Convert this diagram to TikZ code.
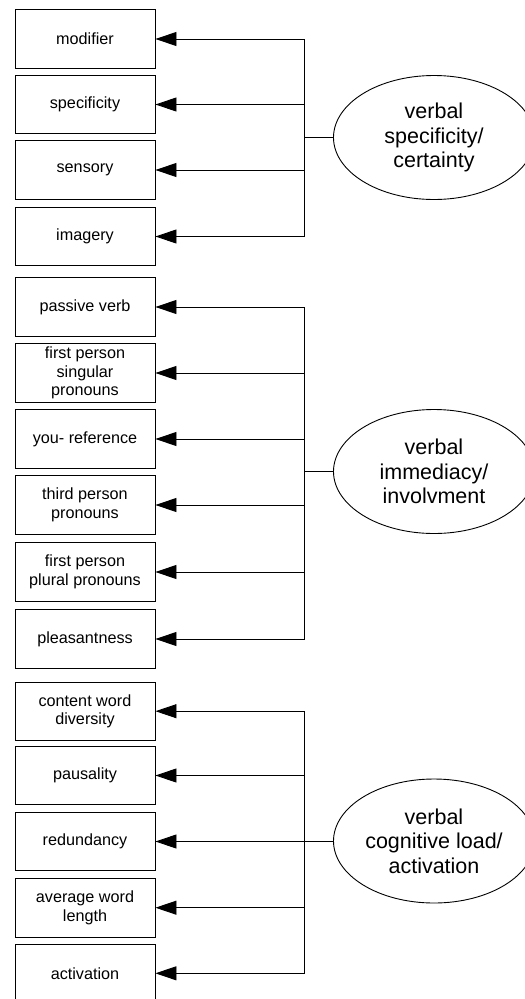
\documentclass[tikz,border=0pt]{standalone}
\usepackage{fontspec}
\setmainfont{Liberation Sans}
\usetikzlibrary{arrows.meta,shapes.geometric}

\tikzset{
  item/.style={draw=black, line width=0.9bp, rectangle, minimum width=140bp,
    minimum height=58.5bp, inner sep=0pt, align=center,
    font=\fontsize{16.2bp}{18.6bp}\selectfont},
  factor/.style={draw=black, line width=0.9bp, ellipse, minimum width=201bp,
    minimum height=124bp, inner sep=0pt, align=center,
    font=\fontsize{21.5bp}{24.5bp}\selectfont},
  link/.style={line width=0.9bp, black},
  load/.style={line width=0.9bp, black, -{Triangle[length=21bp,width=14bp]}}
}

\begin{document}
\begin{tikzpicture}[x=1bp,y=-1bp]
  \useasboundingbox (0,0) rectangle (525,999);
  \clip (0,0) rectangle (525,999);

  % observed indicators, group 1
  \node[item] (a1) at (85,39)    {modifier};
  \node[item] (a2) at (85,104.5) {specificity};
  \node[item] (a3) at (85,170)   {sensory};
  \node[item] (a4) at (85,236.5) {imagery};

  % observed indicators, group 2
  \node[item] (b1) at (85,307) {passive verb};
  \node[item] (b2) at (85,373) {first person\\singular\\pronouns};
  \node[item] (b3) at (85,439) {you- reference};
  \node[item] (b4) at (85,505) {third person\\pronouns};
  \node[item] (b5) at (85,572) {first person\\plural pronouns};
  \node[item] (b6) at (85,639) {pleasantness};

  % observed indicators, group 3
  \node[item] (c1) at (85,711.2) {content word\\diversity};
  \node[item] (c2) at (85,775.5) {pausality};
  \node[item] (c3) at (85,841.5) {redundancy};
  \node[item] (c4) at (85,907.7) {average word\\length};
  \node[item] (c5) at (85,973.3) {activation};

  % latent factors
  \node[factor] (fa) at (434,137.5) {verbal\\specificity/\\certainty};
  \node[factor] (fb) at (434,471.5) {verbal\\immediacy/\\involvment};
  \node[factor] (fc) at (434,841)   {verbal\\cognitive load/\\activation};

  % junctions on the vertical buses
  \coordinate (ja) at (304.3,137.5);
  \coordinate (jb) at (304.3,471.5);
  \coordinate (jc) at (304.3,841);

  \draw[link] (fa.west) -- (ja);
  \draw[link] (fb.west) -- (jb);
  \draw[link] (fc.west) -- (jc);

  \foreach \n in {a1,a2,a3,a4}
    \draw[load] (ja) |- (\n.east);
  \foreach \n in {b1,b2,b3,b4,b5,b6}
    \draw[load] (jb) |- (\n.east);
  \foreach \n in {c1,c2,c3,c4,c5}
    \draw[load] (jc) |- (\n.east);
\end{tikzpicture}
\end{document}
